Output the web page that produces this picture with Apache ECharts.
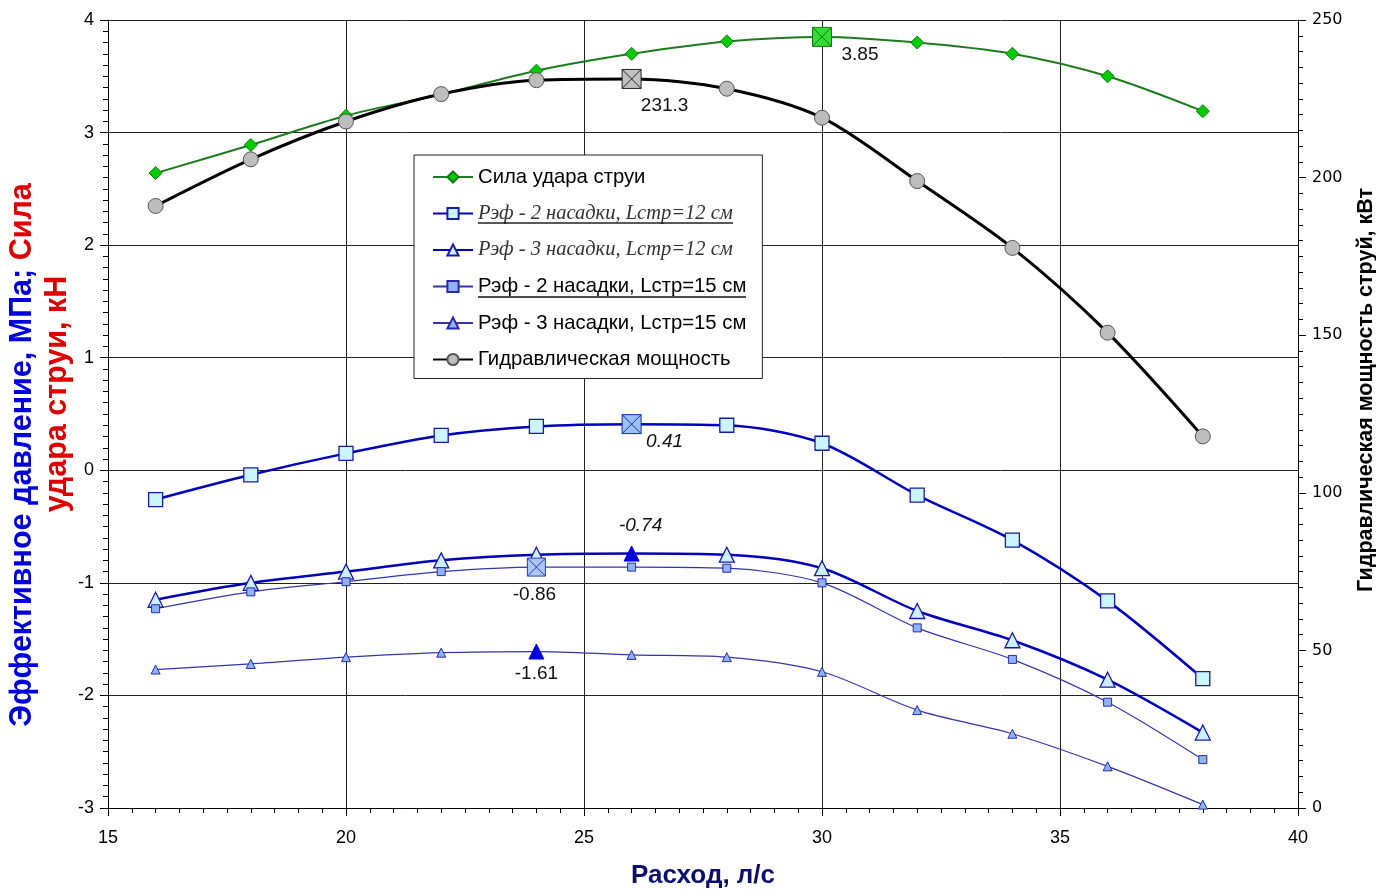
<!DOCTYPE html>
<html>
<head>
<meta charset="utf-8">
<script src="https://cdn.jsdelivr.net/npm/echarts@6/dist/echarts.min.js"></script>
<style>html,body{margin:0;padding:0;background:#fff;}#c{width:1376px;height:894px;}</style>
</head>
<body>
<div id="c"></div>
<script>
// ---- data ----
var flow = [16, 18, 20, 22, 24, 26, 28, 30, 32, 34, 36, 38];
var impactForce = [2.64, 2.89, 3.15, 3.34, 3.55, 3.70, 3.81, 3.85, 3.80, 3.70, 3.50, 3.19];
var pEff2n12 = [-0.26, -0.04, 0.15, 0.31, 0.39, 0.41, 0.40, 0.24, -0.22, -0.62, -1.16, -1.85];
var pEff3n12 = [-1.15, -1.00, -0.90, -0.80, -0.75, -0.74, -0.75, -0.87, -1.25, -1.51, -1.86, -2.33];
var pEff2n15 = [-1.23, -1.08, -0.99, -0.90, -0.86, -0.86, -0.87, -1.00, -1.40, -1.68, -2.06, -2.57];
var pEff3n15 = [-1.77, -1.72, -1.66, -1.62, -1.61, -1.64, -1.66, -1.79, -2.13, -2.34, -2.63, -2.97];
var power = [191.0, 205.8, 217.8, 226.5, 230.9, 231.3, 228.2, 219.0, 198.9, 177.7, 150.8, 117.9];
var seriesNames = ['Сила удара струи', 'Рэф - 2 насадки, Lстр=12 см', 'Рэф - 3 насадки, Lстр=12 см',
  'Рэф - 2 насадки, Lстр=15 см', 'Рэф - 3 насадки, Lстр=15 см', 'Гидравлическая мощность'];
var peakIndex = [7, 5, 5, 4, 4, 5];
var peakDecimals = [2, 2, 2, 2, 2, 1];

var XSQ = 'path://M0,0L20,0L20,20L0,20Z M0,0L20,20 M20,0L0,20';

function build(vals, idx, peak) {
  return flow.map(function (x, i) {
    if (i !== idx) return [x, vals[i]];
    var o = { value: [x, vals[i]] };
    for (var k in peak) o[k] = peak[k];
    return o;
  });
}
var font = "'Liberation Sans', Arial, sans-serif";
var serif = "'Liberation Serif', 'Times New Roman', serif";
function peakLabel(dec, offset, italic) {
  return {
    show: true, position: 'inside', offset: offset,
    fontFamily: font, fontSize: 19,
    fontStyle: italic ? 'italic' : 'normal', color: '#111',
    formatter: function (p) { return p.value[1].toFixed(dec); }
  };
}

var chart = echarts.init(document.getElementById('c'), null, { renderer: 'canvas' });

var option = {
  animation: false,
  backgroundColor: '#fff',
  grid: { left: 108, right: 78, top: 20, bottom: 86, outerBoundsMode: 'none', containLabel: false },
  legend: {
    orient: 'vertical', left: 414, top: 155,
    itemWidth: 40, itemHeight: 14, itemGap: 16.5,
    padding: [12, 16, 9, 18],
    backgroundColor: '#fff', borderColor: '#222', borderWidth: 1,
    textStyle: { fontFamily: font, fontSize: 20.3, color: '#000', lineHeight: 20 },
    data: [
      { name: seriesNames[0] },
      { name: seriesNames[1], textStyle: { fontFamily: serif, fontStyle: 'italic', fontSize: 20.5, color: '#333' } },
      { name: seriesNames[2], textStyle: { fontFamily: serif, fontStyle: 'italic', fontSize: 20.5, color: '#333' } },
      { name: seriesNames[3] },
      { name: seriesNames[4] },
      { name: seriesNames[5] }
    ]
  },
  xAxis: {
    type: 'value', min: 15, max: 40, interval: 5,
    name: 'Расход, л/с', nameLocation: 'middle', nameGap: 55, nameMoveOverlap: false,
    nameTextStyle: { fontFamily: font, fontSize: 26, fontWeight: 'bold', color: '#0d0d6b' },
    axisLine: { onZero: false, lineStyle: { color: '#000', width: 1 } },
    axisTick: { show: true, length: 8, lineStyle: { color: '#000' } },
    minorTick: { show: true, splitNumber: 10, length: 5, lineStyle: { color: '#000' } },
    axisLabel: { fontFamily: font, fontSize: 18, color: '#000', margin: 21 },
    splitLine: { show: true, lineStyle: { color: '#222', width: 1 } }
  },
  yAxis: [
    {
      type: 'value', min: -3, max: 4, interval: 1, position: 'left',
      name: '{b|Эффективное давление, МПа; }{r|Сила}\n{r2|удара струи, кН}',
      nameLocation: 'middle', nameGap: 33, nameRotate: 90, nameMoveOverlap: false,
      nameTextStyle: {
        align: 'center', lineHeight: 35, padding: [0, 82, 0, 0],
        rich: {
          b: { fontFamily: font, fontSize: 30.5, fontWeight: 'bold', color: '#0000dd', lineHeight: 35 },
          r: { fontFamily: font, fontSize: 30.5, fontWeight: 'bold', color: '#dd0000', lineHeight: 35 },
          r2: { fontFamily: font, fontSize: 30.5, fontWeight: 'bold', color: '#dd0000', lineHeight: 35, padding: [0, 0, 0, 122] }
        }
      },
      axisLine: { show: true, onZero: false, lineStyle: { color: '#000', width: 1 } },
      axisTick: { show: true, length: 8, lineStyle: { color: '#000' } },
      minorTick: { show: true, splitNumber: 10, length: 5, lineStyle: { color: '#000' } },
      axisLabel: { fontFamily: font, fontSize: 18, color: '#000', margin: 14 },
      splitLine: { show: true, lineStyle: { color: '#222', width: 1 } }
    },
    {
      type: 'value', min: 0, max: 250, interval: 50, position: 'right',
      name: 'Гидравлическая мощность струй, кВт',
      nameLocation: 'middle', nameGap: 57, nameRotate: 90,
      nameTextStyle: { fontFamily: "'Liberation Sans Narrow', 'Arial Narrow', " + font, fontSize: 21.5, fontWeight: 'bold', color: '#000', padding: [0, 0, 0, 48] },
      axisLine: { show: true, onZero: false, lineStyle: { color: '#000', width: 1 } },
      axisTick: { show: true, length: 8, lineStyle: { color: '#000' } },
      minorTick: { show: true, splitNumber: 10, length: 5, lineStyle: { color: '#000' } },
      axisLabel: { fontFamily: "'DejaVu Sans', Verdana, sans-serif", fontSize: 16, color: '#000', margin: 14 },
      splitLine: { show: false }
    }
  ],
  graphic: [
    { type: 'line', shape: { x1: 478, y1: 223, x2: 733, y2: 223 }, style: { stroke: '#222', lineWidth: 1.5 }, z: 100 },
    { type: 'line', shape: { x1: 478, y1: 297, x2: 746, y2: 297 }, style: { stroke: '#111', lineWidth: 1.5 }, z: 100 }
  ],
  series: [
    {
      name: seriesNames[0], type: 'line', yAxisIndex: 0, smooth: 0.3,
      symbol: 'diamond', symbolSize: 13,
      lineStyle: { color: '#1f7a1f', width: 2 },
      itemStyle: { color: '#00cc00', borderColor: '#117711', borderWidth: 1 },
      data: build(impactForce, peakIndex[0], {
        symbol: XSQ, symbolSize: 19,
        itemStyle: { color: '#33dd33', borderColor: '#117711', borderWidth: 1 },
        label: peakLabel(peakDecimals[0], [38, 18], false)
      })
    },
    {
      name: seriesNames[1], type: 'line', yAxisIndex: 0, smooth: 0.3,
      symbol: 'rect', symbolSize: 14,
      lineStyle: { color: '#0000bb', width: 2.5 },
      itemStyle: { color: '#ccf6ff', borderColor: '#1a1aa8', borderWidth: 1.3 },
      data: build(pEff2n12, peakIndex[1], {
        symbol: XSQ, symbolSize: 19,
        itemStyle: { color: '#99c2f2', borderColor: '#1a2ab0', borderWidth: 1 },
        label: peakLabel(peakDecimals[1], [33, 18], true)
      })
    },
    {
      name: seriesNames[2], type: 'line', yAxisIndex: 0, smooth: 0.3,
      symbol: 'triangle', symbolSize: 15,
      lineStyle: { color: '#0000bb', width: 2.5 },
      itemStyle: { color: '#ccf0ff', borderColor: '#1a1aa8', borderWidth: 1.3 },
      data: build(pEff3n12, peakIndex[2], {
        symbol: 'triangle', symbolSize: 15,
        itemStyle: { color: '#0000dd', borderColor: '#0000dd', borderWidth: 1 },
        label: peakLabel(peakDecimals[2], [9, -28], true)
      })
    },
    {
      name: seriesNames[3], type: 'line', yAxisIndex: 0, smooth: 0.3,
      symbol: 'rect', symbolSize: 8,
      lineStyle: { color: '#3535a8', width: 1.2 },
      itemStyle: { color: '#8fb2ff', borderColor: '#2a2aa0', borderWidth: 1 },
      data: build(pEff2n15, peakIndex[3], {
        symbol: XSQ, symbolSize: 18,
        itemStyle: { color: '#a8c8f8', borderColor: '#2a3ab8', borderWidth: 1 },
        label: peakLabel(peakDecimals[3], [-2, 28], false)
      })
    },
    {
      name: seriesNames[4], type: 'line', yAxisIndex: 0, smooth: 0.3,
      symbol: 'triangle', symbolSize: 9,
      lineStyle: { color: '#3535a8', width: 1.2 },
      itemStyle: { color: '#8fb2ff', borderColor: '#2a2aa0', borderWidth: 1 },
      data: build(pEff3n15, peakIndex[4], {
        symbol: 'triangle', symbolSize: 15,
        itemStyle: { color: '#0000dd', borderColor: '#0000dd', borderWidth: 1 },
        label: peakLabel(peakDecimals[4], [0, 22], false)
      })
    },
    {
      name: seriesNames[5], type: 'line', yAxisIndex: 1, smooth: 0.3,
      symbol: 'circle', symbolSize: 15,
      lineStyle: { color: '#000', width: 3 },
      itemStyle: { color: '#bdbdbd', borderColor: '#555', borderWidth: 1 },
      data: build(power, peakIndex[5], {
        symbol: XSQ, symbolSize: 19,
        itemStyle: { color: '#c0c0c0', borderColor: '#222', borderWidth: 1 },
        label: peakLabel(peakDecimals[5], [33, 27], false)
      })
    }
  ]
};
chart.setOption(option);
</script>
</body>
</html>
